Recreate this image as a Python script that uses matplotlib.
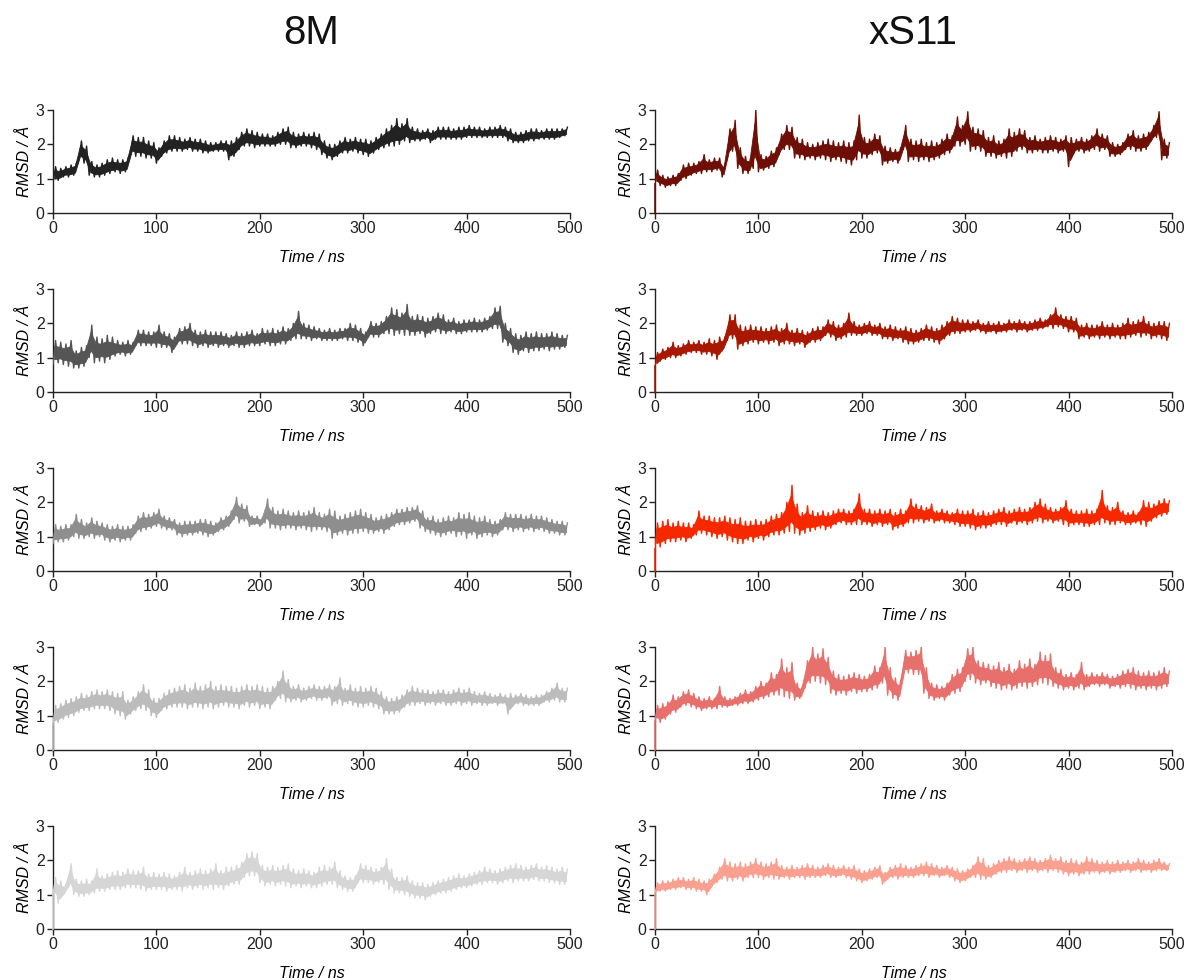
import numpy as np
import matplotlib
matplotlib.use("Agg")
import matplotlib.pyplot as plt

plt.rcParams['font.family'] = ['Liberation Sans', 'DejaVu Sans']

# Column titles
col_titles = ["8M", "xS11"]

# Sampling grid (ns): one low/high pair per 5 ns window
t_bins = np.arange(0, 500, 5)
half_step = 2.5

x_ticks = [0, 100, 200, 300, 400, 500]
y_ticks = [0, 1, 2, 3]

# ---- 8M replicas: low / high RMSD per 5 ns window ----
m8_1_lo = [0.90,0.95,1.05,1.05,1.10,1.55,1.45,1.10,1.05,1.05,
           1.10,1.15,1.20,1.15,1.20,1.70,1.65,1.65,1.60,1.60,
           1.45,1.65,1.75,1.80,1.80,1.80,1.85,1.80,1.80,1.75,
           1.75,1.80,1.80,1.80,1.55,1.65,1.85,1.95,1.95,1.90,
           1.95,1.95,1.95,1.95,2.00,2.00,1.90,1.90,1.95,1.95,
           1.90,1.85,1.70,1.60,1.55,1.65,1.75,1.75,1.80,1.75,
           1.70,1.65,1.75,1.85,1.90,1.95,1.95,2.00,2.10,2.05,
           2.10,2.10,2.15,2.05,2.15,2.15,2.15,2.15,2.15,2.15,
           2.20,2.20,2.20,2.20,2.20,2.20,2.20,2.20,2.10,2.05,
           2.05,2.05,2.10,2.10,2.15,2.15,2.15,2.15,2.20,2.25]
m8_1_hi = [1.35,1.30,1.35,1.40,1.45,2.10,1.95,1.50,1.40,1.45,
           1.55,1.60,1.55,1.55,1.60,2.25,2.20,2.20,2.10,2.05,
           1.90,2.10,2.25,2.25,2.20,2.15,2.20,2.15,2.15,2.10,
           2.05,2.05,2.10,2.10,2.10,2.20,2.35,2.45,2.40,2.35,
           2.30,2.30,2.25,2.35,2.45,2.50,2.35,2.30,2.35,2.30,
           2.35,2.30,2.10,2.00,2.00,2.10,2.20,2.15,2.20,2.15,
           2.15,2.10,2.20,2.30,2.45,2.55,2.75,2.60,2.75,2.50,
           2.45,2.40,2.45,2.40,2.50,2.50,2.50,2.45,2.50,2.50,
           2.55,2.50,2.50,2.45,2.50,2.50,2.55,2.50,2.45,2.35,
           2.35,2.40,2.45,2.45,2.40,2.45,2.45,2.45,2.45,2.50]

m8_2_lo = [0.80,0.85,0.80,0.75,0.70,0.70,0.75,1.00,0.85,0.90,
           0.85,0.95,1.05,1.10,1.05,1.10,1.35,1.35,1.35,1.35,
           1.30,1.30,1.30,1.15,1.40,1.40,1.40,1.35,1.30,1.35,
           1.30,1.35,1.30,1.35,1.30,1.35,1.30,1.30,1.35,1.35,
           1.35,1.40,1.35,1.35,1.40,1.40,1.50,1.55,1.55,1.55,
           1.50,1.55,1.50,1.50,1.50,1.50,1.55,1.50,1.50,1.45,
           1.35,1.60,1.60,1.60,1.70,1.70,1.65,1.70,1.65,1.65,
           1.65,1.70,1.60,1.70,1.75,1.70,1.70,1.75,1.70,1.70,
           1.75,1.75,1.75,1.75,1.80,1.85,1.85,1.45,1.35,1.15,
           1.10,1.20,1.15,1.20,1.20,1.25,1.20,1.25,1.25,1.30]
m8_2_hi = [1.50,1.45,1.40,1.50,1.20,1.30,1.35,1.95,1.60,1.55,
           1.65,1.60,1.50,1.45,1.50,1.45,1.80,1.80,1.75,1.75,
           1.95,1.75,1.70,1.60,1.85,1.90,2.00,1.80,1.75,1.80,
           1.75,1.75,1.75,1.70,1.65,1.75,1.70,1.75,1.80,1.70,
           1.85,1.80,1.85,1.80,1.90,1.85,2.00,2.35,2.00,1.95,
           1.90,1.85,1.80,1.85,1.80,1.85,1.85,2.00,1.95,1.85,
           1.75,2.05,2.00,2.05,2.20,2.45,2.40,2.30,2.55,2.20,
           2.25,2.20,2.15,2.20,2.30,2.25,2.10,2.15,2.05,2.10,
           2.10,2.15,2.10,2.15,2.20,2.45,2.50,2.00,1.85,1.70,
           1.65,1.75,1.70,1.75,1.70,1.70,1.75,1.70,1.65,1.65]

m8_3_lo = [0.80,0.85,0.85,0.90,1.00,0.95,0.95,1.00,0.95,1.00,
           0.90,0.85,0.90,0.85,0.90,0.90,1.10,1.15,1.20,1.25,
           1.30,1.25,1.20,1.20,1.05,1.00,1.05,1.05,1.10,1.05,
           1.00,1.05,1.15,1.20,1.30,1.50,1.40,1.45,1.30,1.35,
           1.30,1.40,1.25,1.25,1.20,1.25,1.25,1.20,1.25,1.20,
           1.15,1.20,1.20,1.15,0.95,1.05,1.10,1.05,1.10,1.10,
           1.15,1.10,1.10,1.15,1.10,1.20,1.30,1.35,1.35,1.40,
           1.45,1.25,1.15,1.10,1.05,1.00,1.05,1.10,1.00,1.05,
           0.95,1.05,0.95,1.00,1.05,1.00,1.05,1.20,1.20,1.15,
           1.20,1.15,1.20,1.15,1.20,1.15,1.10,1.10,1.05,1.05]
m8_3_hi = [1.35,1.30,1.35,1.35,1.65,1.50,1.40,1.55,1.45,1.40,
           1.35,1.30,1.35,1.30,1.30,1.35,1.60,1.70,1.65,1.70,
           1.80,1.60,1.55,1.50,1.40,1.45,1.45,1.45,1.50,1.50,
           1.45,1.40,1.55,1.60,1.75,2.15,1.95,1.90,1.60,1.60,
           1.55,2.10,1.85,1.75,1.80,1.75,1.70,1.75,1.70,1.75,
           1.85,1.70,1.65,1.80,1.75,1.60,1.65,1.70,1.75,1.80,
           1.70,1.65,1.55,1.60,1.65,1.70,1.80,1.80,1.85,1.85,
           1.90,1.75,1.55,1.60,1.50,1.55,1.60,1.55,1.70,1.65,
           1.70,1.60,1.55,1.60,1.50,1.45,1.50,1.70,1.65,1.65,
           1.65,1.60,1.65,1.60,1.60,1.55,1.50,1.45,1.45,1.40]

m8_4_lo = [0.75,0.80,0.90,0.95,1.00,1.10,1.15,1.15,1.20,1.20,
           1.20,1.15,1.05,1.00,0.90,1.05,1.15,1.20,1.15,1.00,
           0.95,1.15,1.20,1.25,1.25,1.25,1.20,1.25,1.25,1.20,
           1.25,1.20,1.25,1.30,1.25,1.25,1.20,1.30,1.25,1.30,
           1.20,1.25,1.20,1.45,1.50,1.40,1.40,1.45,1.40,1.45,
           1.50,1.45,1.45,1.50,1.30,1.35,1.30,1.35,1.30,1.25,
           1.25,1.30,1.25,1.20,1.05,1.05,1.05,1.10,1.25,1.30,
           1.30,1.35,1.30,1.35,1.30,1.35,1.30,1.30,1.35,1.30,
           1.35,1.30,1.35,1.30,1.30,1.35,1.30,1.35,1.05,1.30,
           1.35,1.30,1.30,1.30,1.30,1.40,1.40,1.45,1.40,1.40]
m8_4_hi = [1.30,1.35,1.45,1.50,1.55,1.65,1.60,1.70,1.75,1.70,
           1.75,1.70,1.65,1.70,1.45,1.55,1.70,1.90,1.75,1.50,
           1.50,1.65,1.75,1.80,1.85,1.90,1.80,1.95,1.85,1.90,
           2.00,1.85,1.90,1.85,1.85,1.80,1.85,1.90,1.85,1.90,
           1.85,1.80,1.85,2.00,2.30,2.05,1.85,1.90,1.80,1.85,
           1.90,1.85,1.85,1.90,1.85,2.10,1.80,1.90,1.80,1.85,
           1.80,1.85,1.80,1.70,1.55,1.50,1.55,1.60,1.75,1.85,
           1.80,1.75,1.75,1.70,1.75,1.75,1.70,1.75,1.80,1.75,
           1.80,1.70,1.65,1.70,1.65,1.60,1.65,1.60,1.65,1.60,
           1.65,1.60,1.55,1.60,1.60,1.70,1.80,1.95,1.80,1.80]

m8_5_lo = [1.00,0.75,1.00,1.20,1.00,0.95,0.95,1.00,1.05,1.10,
           1.10,1.15,1.15,1.15,1.20,1.20,1.20,1.15,1.10,1.15,
           1.15,1.15,1.10,1.15,1.15,1.10,1.20,1.15,1.20,1.15,
           1.20,1.15,1.20,1.15,1.25,1.30,1.30,1.50,1.55,1.55,
           1.35,1.25,1.30,1.25,1.30,1.25,1.20,1.25,1.20,1.25,
           1.20,1.20,1.25,1.30,1.30,1.20,1.15,1.10,1.10,1.35,
           1.35,1.35,1.30,1.35,1.30,1.15,1.05,1.05,1.00,0.95,
           0.90,0.90,0.85,0.95,1.00,1.05,1.05,1.10,1.15,1.20,
           1.20,1.25,1.30,1.30,1.35,1.35,1.30,1.35,1.40,1.35,
           1.40,1.40,1.40,1.45,1.40,1.40,1.35,1.35,1.30,1.30]
m8_5_hi = [1.50,1.40,1.30,1.90,1.45,1.40,1.45,1.40,1.75,1.55,
           1.60,1.65,1.70,1.65,1.75,1.70,1.70,1.80,1.60,1.65,
           1.60,1.65,1.60,1.55,1.65,1.80,1.65,1.70,1.75,1.70,
           1.75,1.90,1.70,1.80,1.80,1.85,1.95,2.20,2.25,2.20,
           1.85,1.80,1.85,1.80,1.85,1.90,1.75,1.70,1.75,1.70,
           1.65,1.80,1.85,1.80,1.95,1.70,1.55,1.50,1.55,1.90,
           1.85,1.80,1.75,1.80,2.05,1.75,1.50,1.50,1.55,1.40,
           1.35,1.35,1.30,1.35,1.40,1.45,1.50,1.55,1.60,1.55,
           1.60,1.65,1.70,1.80,1.75,1.70,1.75,1.80,1.85,1.90,
           1.85,1.80,1.85,1.90,1.80,1.85,1.80,1.75,1.80,1.75]

# ---- xS11 replicas: low / high RMSD per 5 ns window ----
xs_1_lo = [0.85,0.80,0.75,0.80,0.80,0.95,1.00,1.10,1.15,1.15,
           1.20,1.20,1.25,1.05,1.60,1.80,1.30,1.15,1.15,1.30,
           1.20,1.25,1.30,1.35,1.70,1.85,1.85,1.60,1.60,1.55,
           1.60,1.55,1.60,1.55,1.50,1.55,1.50,1.45,1.40,1.55,
           1.60,1.60,1.70,1.75,1.40,1.45,1.50,1.45,1.85,1.50,
           1.55,1.50,1.55,1.50,1.55,1.60,1.70,1.75,1.95,1.95,
           2.00,1.80,1.85,1.80,1.65,1.65,1.60,1.65,1.60,1.65,
           1.80,1.85,1.75,1.75,1.80,1.75,1.75,1.80,1.75,1.80,
           1.35,1.75,1.80,1.75,1.80,1.85,1.80,1.85,1.65,1.65,
           1.70,1.85,1.85,1.80,1.80,1.85,2.10,2.20,1.55,1.60]
xs_1_hi = [1.25,1.10,1.05,1.10,1.15,1.40,1.45,1.45,1.50,1.70,
           1.55,1.60,1.60,1.40,2.45,2.70,1.90,1.65,1.60,3.00,
           1.70,1.65,1.80,1.90,2.30,2.55,2.50,2.20,2.15,2.05,
           2.00,2.05,2.10,2.15,2.10,2.05,2.10,2.05,2.10,2.85,
           2.20,2.15,2.30,2.25,1.95,1.90,1.85,1.90,2.55,2.15,
           2.10,2.15,2.05,2.10,2.05,2.15,2.30,2.25,2.80,2.55,
           2.95,2.50,2.45,2.40,2.20,2.25,2.10,2.15,2.45,2.35,
           2.45,2.40,2.20,2.25,2.15,2.20,2.25,2.20,2.15,2.25,
           2.20,2.15,2.20,2.15,2.25,2.45,2.30,2.25,2.05,2.00,
           2.05,2.30,2.40,2.25,2.30,2.35,2.55,2.95,2.15,2.05]

xs_2_lo = [0.75,0.90,0.95,1.00,1.00,1.05,1.10,1.15,1.15,1.10,
           1.10,1.05,0.95,1.20,1.50,1.55,1.25,1.35,1.40,1.45,
           1.40,1.45,1.40,1.45,1.35,1.40,1.40,1.35,1.40,1.30,
           1.45,1.45,1.50,1.65,1.60,1.50,1.55,1.60,1.65,1.65,
           1.65,1.70,1.65,1.65,1.55,1.55,1.50,1.55,1.45,1.40,
           1.40,1.45,1.50,1.50,1.45,1.40,1.55,1.65,1.70,1.70,
           1.75,1.75,1.80,1.75,1.70,1.75,1.70,1.75,1.75,1.80,
           1.75,1.80,1.75,1.80,1.80,1.85,1.90,1.85,1.90,1.85,
           1.75,1.75,1.55,1.60,1.55,1.60,1.55,1.60,1.55,1.60,
           1.55,1.55,1.60,1.65,1.60,1.65,1.55,1.60,1.55,1.50]
xs_2_hi = [1.15,1.25,1.30,1.45,1.35,1.40,1.50,1.45,1.50,1.45,
           1.55,1.50,1.60,1.60,2.25,2.25,1.95,1.90,1.95,1.90,
           1.90,1.85,1.90,1.95,1.85,2.00,1.80,1.85,1.80,1.75,
           1.85,1.90,1.90,2.10,2.05,1.95,2.00,2.30,2.05,1.95,
           2.00,2.05,1.95,2.00,1.90,1.95,1.90,1.85,1.90,1.85,
           1.80,1.85,1.95,1.90,1.85,1.95,2.05,2.20,2.15,2.10,
           2.10,2.05,2.10,2.00,2.05,2.00,2.05,2.00,2.10,2.05,
           2.10,2.05,2.05,2.10,2.15,2.10,2.25,2.45,2.25,2.20,
           2.20,2.15,1.95,2.00,1.95,1.95,2.05,1.95,2.00,1.95,
           2.00,2.15,2.05,2.10,2.20,2.05,2.00,2.05,2.05,2.00]

xs_3_lo = [0.65,0.70,0.80,0.85,0.85,0.90,0.85,0.95,1.05,1.10,
           1.05,1.00,0.95,1.00,0.90,0.85,0.80,0.80,0.90,0.85,
           0.95,0.90,1.00,1.05,1.05,1.10,1.15,1.10,1.05,1.10,
           1.15,1.20,1.25,1.20,1.25,1.35,1.40,1.35,1.35,1.35,
           1.35,1.35,1.30,1.35,1.30,1.35,1.20,1.25,1.30,1.40,
           1.40,1.45,1.40,1.45,1.40,1.45,1.40,1.40,1.35,1.30,
           1.30,1.25,1.20,1.25,1.25,1.30,1.35,1.35,1.30,1.40,
           1.35,1.40,1.35,1.40,1.45,1.40,1.45,1.40,1.45,1.35,
           1.30,1.35,1.35,1.30,1.30,1.35,1.35,1.40,1.35,1.35,
           1.40,1.35,1.35,1.40,1.35,1.30,1.45,1.55,1.60,1.65]
xs_3_hi = [1.40,1.45,1.50,1.40,1.45,1.40,1.40,1.35,1.75,1.60,
           1.60,1.55,1.55,1.60,1.55,1.50,1.55,1.45,1.45,1.50,
           1.45,1.50,1.60,1.65,1.70,2.00,2.50,1.95,1.70,1.90,
           1.75,1.70,1.75,1.70,1.75,1.80,1.80,1.75,1.80,2.25,
           1.80,1.80,1.75,1.80,1.75,1.80,1.70,1.80,1.75,2.10,
           1.95,1.90,1.85,1.95,1.75,1.80,1.75,1.70,1.80,1.75,
           1.75,1.80,1.70,1.75,1.70,1.75,1.80,1.85,1.75,1.80,
           1.85,1.80,1.85,2.00,2.10,1.95,1.85,1.80,1.85,2.05,
           1.80,1.75,1.75,1.80,1.75,1.80,2.35,1.90,1.85,2.00,
           1.75,1.70,1.75,1.70,2.05,2.00,1.95,2.05,2.10,2.05]

xs_4_lo = [0.85,0.80,0.90,1.05,1.10,1.25,1.30,1.25,1.20,1.15,
           1.20,1.20,1.20,1.25,1.25,1.30,1.30,1.35,1.35,1.40,
           1.45,1.50,1.55,1.60,1.60,1.55,1.50,1.45,1.50,1.80,
           1.95,2.00,1.95,1.90,1.65,1.60,1.65,1.60,1.70,1.65,
           1.70,1.70,1.75,1.80,1.95,1.60,1.50,1.45,2.20,2.25,
           2.20,2.20,1.65,1.50,1.45,1.50,1.45,1.60,1.65,1.70,
           2.00,2.05,1.95,1.90,1.95,1.85,1.80,1.75,1.80,1.75,
           1.80,1.85,1.80,1.85,1.90,1.95,1.90,1.85,1.80,1.75,
           1.80,1.75,1.80,1.75,1.85,1.90,1.85,1.90,1.80,1.85,
           1.80,1.85,1.80,1.75,1.80,1.75,1.80,1.75,1.80,1.85]
xs_4_hi = [1.30,1.35,1.40,1.60,1.55,1.70,1.75,1.65,1.55,1.50,
           1.55,1.50,1.85,1.55,1.50,1.55,1.65,1.75,1.70,1.85,
           2.00,1.95,2.25,2.20,2.65,2.40,2.55,1.95,1.85,2.60,
           3.00,2.80,2.95,2.70,2.30,2.20,2.15,2.20,2.25,2.20,
           2.15,2.20,2.45,2.40,3.00,2.40,2.10,2.00,2.90,2.85,
           2.90,3.00,2.40,1.95,1.90,1.85,1.95,2.20,2.35,2.40,
           2.95,3.00,2.60,2.55,2.50,2.45,2.55,2.40,2.50,2.35,
           2.60,2.50,2.65,2.50,2.85,2.75,2.80,2.40,2.35,2.20,
           2.25,2.20,2.55,2.20,2.25,2.20,2.25,2.20,2.15,2.20,
           2.30,2.35,2.40,2.30,2.25,2.30,2.25,2.30,2.40,2.30]

xs_5_lo = [1.05,1.10,1.10,1.15,1.15,1.20,1.15,1.15,1.10,1.10,
           1.00,1.25,1.35,1.45,1.40,1.40,1.45,1.40,1.50,1.50,
           1.50,1.45,1.50,1.45,1.45,1.50,1.45,1.50,1.50,1.45,
           1.50,1.50,1.50,1.55,1.50,1.50,1.55,1.50,1.45,1.40,
           1.35,1.40,1.45,1.50,1.30,1.45,1.50,1.45,1.50,1.50,
           1.50,1.55,1.55,1.50,1.55,1.50,1.55,1.50,1.40,1.35,
           1.40,1.50,1.50,1.45,1.45,1.50,1.60,1.65,1.65,1.70,
           1.65,1.70,1.65,1.70,1.65,1.70,1.65,1.70,1.65,1.60,
           1.55,1.60,1.55,1.60,1.60,1.65,1.60,1.65,1.60,1.65,
           1.65,1.70,1.65,1.70,1.65,1.70,1.65,1.70,1.70,1.70]
xs_5_hi = [1.35,1.40,1.40,1.45,1.50,1.50,1.45,1.50,1.45,1.40,
           1.45,1.60,1.80,2.05,1.95,1.90,1.95,1.90,1.95,2.05,
           1.95,1.90,1.95,2.05,1.85,1.80,1.85,1.80,1.85,1.90,
           1.85,1.80,1.85,1.90,1.85,1.80,1.85,1.80,1.85,1.75,
           1.70,1.75,1.80,1.85,1.65,1.80,1.85,1.90,1.85,1.80,
           1.85,1.90,1.95,1.90,1.85,1.80,1.85,1.80,1.75,1.70,
           1.75,1.85,2.10,2.05,1.85,1.90,2.00,2.05,2.10,2.05,
           2.00,2.05,2.10,2.05,2.00,2.05,2.15,2.05,2.10,2.00,
           2.05,2.00,1.95,2.10,2.05,2.00,1.95,2.00,1.95,2.00,
           1.95,2.00,1.95,2.05,2.00,1.95,2.00,2.05,1.95,1.90]

# RMSD at t = 0 (None: trace begins at the first window)
m8_start = [None, None, None, 0.0, 0.0]
xs_start = [0.0, 0.0, 0.0, 0.0, 0.0]

m8_lo = [m8_1_lo, m8_2_lo, m8_3_lo, m8_4_lo, m8_5_lo]
m8_hi = [m8_1_hi, m8_2_hi, m8_3_hi, m8_4_hi, m8_5_hi]
xs_lo = [xs_1_lo, xs_2_lo, xs_3_lo, xs_4_lo, xs_5_lo]
xs_hi = [xs_1_hi, xs_2_hi, xs_3_hi, xs_4_hi, xs_5_hi]

m8_colors = ["#222222", "#555555", "#8e8e8e", "#bcbcbc", "#d6d6d6"]
xs_colors = ["#6e0f06", "#a81800", "#f52800", "#e8706c", "#f9a090"]

W, H = 1186, 980
fig = plt.figure(figsize=(W / 100, H / 100), dpi=100)

col_left = [53, 655]
ax_w = 517
row_top = [110, 289, 468, 647, 826]
ax_h = 103


def zigzag(lo, hi):
    xs, ys = [], []
    for t, a, b in zip(t_bins, lo, hi):
        xs += [t, t + half_step]
        ys += [a, b]
    return np.array(xs), np.array(ys)


columns = [(m8_lo, m8_hi, m8_start, m8_colors), (xs_lo, xs_hi, xs_start, xs_colors)]

for c, (los, his, starts, colors) in enumerate(columns):
    for r in range(5):
        ax = fig.add_axes([col_left[c] / W, 1 - (row_top[r] + ax_h) / H,
                           ax_w / W, ax_h / H])
        col = colors[r]
        lo = np.array(los[r])
        hi = np.array(his[r])
        span = hi - lo
        tc = t_bins + half_step / 2
        # dense core of the fluctuation band
        ax.fill_between(tc, lo + 0.22 * span, hi - 0.22 * span,
                        color=col, lw=0.6, edgecolor=col, zorder=2)
        # excursions out to the window minima and maxima
        x, y = zigzag(lo, hi)
        ax.plot(x, y, color=col, lw=1.0, zorder=3)
        if starts[r] is not None:
            ax.plot([0, 0], [starts[r], lo[0]], color=col, lw=1.2,
                    zorder=4, clip_on=False)
        ax.set_xlim(0, 500)
        ax.set_ylim(0, 3)
        ax.set_xticks(x_ticks)
        ax.set_yticks(y_ticks)
        for s in ("top", "right"):
            ax.spines[s].set_visible(False)
        for s in ("left", "bottom"):
            ax.spines[s].set_color("#222222")
            ax.spines[s].set_linewidth(1.0)
        ax.tick_params(direction="out", length=4, width=1.0, colors="#222222",
                       labelsize=11.5, pad=2)
        ax.set_xlabel("Time / ns", fontsize=11.5, fontstyle="italic", labelpad=10)
        ax.set_ylabel("RMSD / Å", fontsize=11.5, fontstyle="italic", labelpad=3)

for c, title in enumerate(col_titles):
    fig.text((col_left[c] + ax_w / 2) / W, 1 - 33 / H, title,
             ha="center", va="center", fontsize=29, color="#111111")

fig.savefig("out.png", dpi=100)
